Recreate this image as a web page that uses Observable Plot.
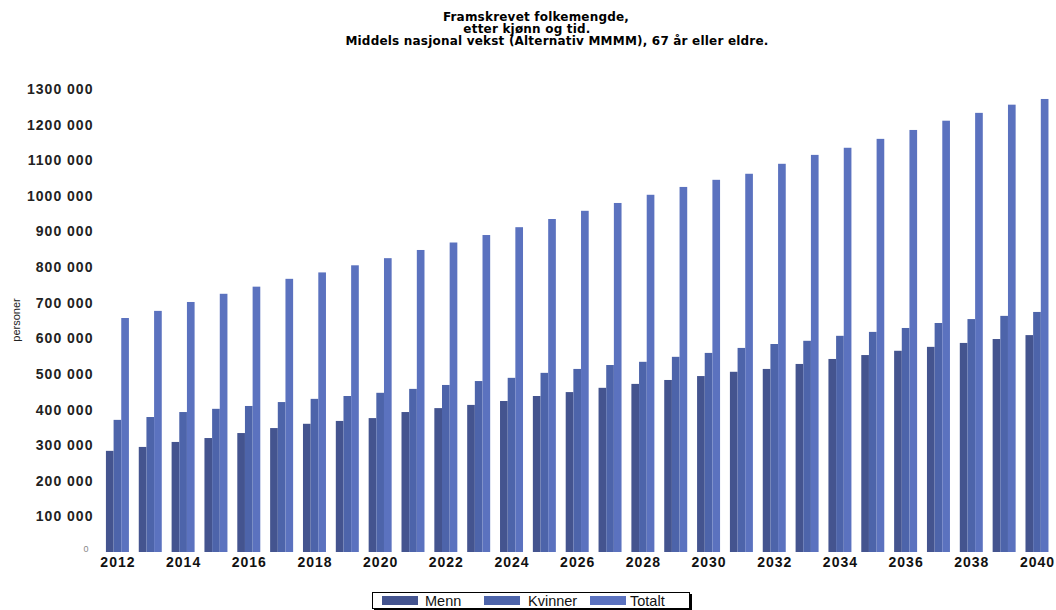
<!DOCTYPE html>
<html>
<head>
<meta charset="utf-8">
<script src="https://cdn.jsdelivr.net/npm/d3@7"></script>
<script src="https://cdn.jsdelivr.net/npm/@observablehq/plot@0.6"></script>
<style>
  html, body { margin: 0; padding: 0; background: #fff; }
  body { width: 1056px; height: 610px; position: relative; overflow: hidden; font-family: "Liberation Sans", Arial, sans-serif; }
  #title { height: 60px; box-sizing: border-box; padding-top: 10px; font-family: "DejaVu Sans", sans-serif; font-size: 12px; line-height: 14px; font-weight: bold; color: #000; }
  #title div { position: relative; width: 1056px; height: 12px; line-height: 14px; text-align: center; white-space: nowrap; letter-spacing: 0.2px; }
  #chart svg { display: block; }
  #ylabel { position: absolute; left: 16px; top: 320px; transform: translate(-50%, -50%) rotate(-90deg); font-size: 11px; color: #222; white-space: nowrap; }
  #legend { position: absolute; left: 372px; top: 592px; width: 318px; height: 17px; border: 1px solid #000; box-shadow: 2px 2px 0 #000; background: #fff; box-sizing: border-box; }
  .sw { position: absolute; top: 3px; width: 36px; height: 9px; }
  .lt { position: absolute; top: 0px; font-size: 14.5px; line-height: 16px; color: #111; }
</style>
</head>
<body>
<div id="title">
  <div style="left: 8px">Framskrevet folkemengde,</div>
  <div style="left: -1px">etter kjønn og tid.</div>
  <div style="left: 29px">Middels nasjonal vekst (Alternativ MMMM), 67 år eller eldre.</div>
</div>
<div id="chart"></div>
<div id="ylabel">personer</div>
<div id="legend"></div>
<script>
const years = [2012, 2013, 2014, 2015, 2016, 2017, 2018, 2019, 2020, 2021, 2022, 2023, 2024, 2025, 2026, 2027, 2028, 2029, 2030, 2031, 2032, 2033, 2034, 2035, 2036, 2037, 2038, 2039, 2040];
const menn = [284000, 295000, 309000, 320000, 334000, 348000, 360000, 368000, 376000, 393000, 404000, 413000, 424000, 438000, 449000, 461000, 472000, 483000, 494000, 506000, 514000, 528000, 542000, 553000, 565000, 576000, 587000, 598000, 609000];
const kvinner = [371000, 379000, 393000, 402000, 410000, 421000, 430000, 438000, 447000, 458000, 469000, 480000, 489000, 503000, 514000, 525000, 534000, 548000, 559000, 573000, 584000, 593000, 607000, 618000, 629000, 643000, 654000, 663000, 674000];
const totalt = [657000, 677000, 702000, 725000, 745000, 767000, 785000, 805000, 825000, 848000, 869000, 890000, 912000, 935000, 958000, 980000, 1003000, 1025000, 1045000, 1062000, 1090000, 1115000, 1135000, 1160000, 1185000, 1211000, 1233000, 1256000, 1272000];
const series = ["Menn", "Kvinner", "Totalt"];
const colors = ["#44548f", "#4d64aa", "#5b72bf"];
const labeledYears = [2012, 2014, 2016, 2018, 2020, 2022, 2024, 2026, 2028, 2030, 2032, 2034, 2036, 2038, 2040];
const yTicks = [100000, 200000, 300000, 400000, 500000, 600000, 700000, 800000, 900000, 1000000, 1100000, 1200000, 1300000];

const values = {Menn: menn, Kvinner: kvinner, Totalt: totalt};
const data = years.flatMap((year, i) => series.map(s => ({year, serie: s, value: values[s][i]})));

const fmt = d => d === 0 ? "0" : `${Math.floor(d / 1000)} 000`;

const chart = Plot.plot({
  width: 1056,
  height: 520,
  marginLeft: 101,
  marginRight: 2.6,
  marginTop: 29,
  marginBottom: 28,
  style: {fontFamily: "'Liberation Sans', Arial, sans-serif", letterSpacing: "1px", background: "#fff"},
  fx: {domain: years, paddingInner: 0.3, paddingOuter: 0.15, round: false, label: null},
  x: {domain: series, axis: null, padding: 0, round: false},
  y: {domain: [0, 1300000], label: null, axis: null},
  color: {domain: series, range: colors},
  marks: [
    Plot.barY(data, {fx: "year", x: "serie", y: "value", fill: "serie"}),
    Plot.axisY({ticks: yTicks, tickSize: 0, tickPadding: 13, tickFormat: fmt, fontSize: 14, fontWeight: "bold", fill: "#222", label: null}),
    Plot.axisY({ticks: [0], tickSize: 0, tickPadding: 17, tickFormat: fmt, fontSize: 9, fill: "#888", label: null, dy: -3}),
    Plot.axisFx({anchor: "bottom", ticks: labeledYears, tickSize: 0, tickPadding: 5, tickFormat: d => String(d), fontSize: 14, fontWeight: "bold", fill: "#111", label: null})
  ]
});
document.getElementById("chart").appendChild(chart);

const legend = document.getElementById("legend");
const swX = [9, 111, 217];
const txX = [52, 155, 257];
series.forEach((s, i) => {
  const sw = document.createElement("div");
  sw.className = "sw";
  sw.style.left = swX[i] + "px";
  sw.style.background = colors[i];
  legend.appendChild(sw);
  const t = document.createElement("div");
  t.className = "lt";
  t.style.left = txX[i] + "px";
  t.textContent = s;
  legend.appendChild(t);
});
</script>
</body>
</html>
